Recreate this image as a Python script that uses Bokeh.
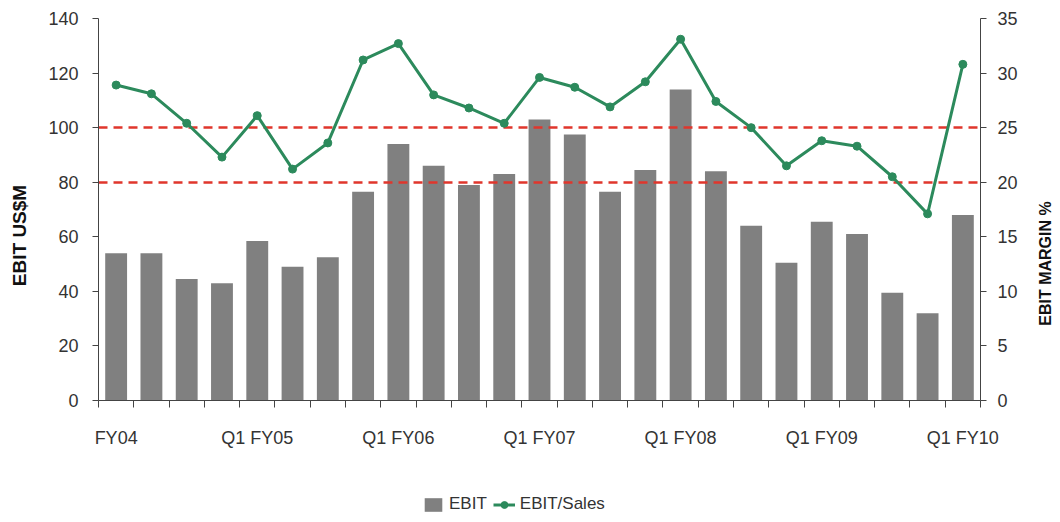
import math
from bokeh.plotting import figure
from bokeh.layouts import column, row
from bokeh.models import (Range1d, LinearAxis, FixedTicker, Legend, LegendItem)
from bokeh.core.properties import value
from bokeh.embed import file_html
from bokeh.resources import INLINE

# ---- data ----
quarters = ["Q1 FY04", "Q2 FY04", "Q3 FY04", "Q4 FY04",
            "Q1 FY05", "Q2 FY05", "Q3 FY05", "Q4 FY05",
            "Q1 FY06", "Q2 FY06", "Q3 FY06", "Q4 FY06",
            "Q1 FY07", "Q2 FY07", "Q3 FY07", "Q4 FY07",
            "Q1 FY08", "Q2 FY08", "Q3 FY08", "Q4 FY08",
            "Q1 FY09", "Q2 FY09", "Q3 FY09", "Q4 FY09",
            "Q1 FY10"]
ebit = [54, 54, 44.5, 43, 58.5, 49, 52.5, 76.5, 94, 86, 79, 83, 103, 97.5,
        76.5, 84.5, 114, 84, 64, 50.5, 65.5, 61, 39.5, 32, 68]
ebit_margin = [28.9, 28.1, 25.4, 22.3, 26.1, 21.2, 23.6, 31.2, 32.7, 28.0,
               26.8, 25.4, 29.6, 28.7, 26.9, 29.2, 33.1, 27.4, 25.0, 21.5,
               23.8, 23.3, 20.5, 17.1, 30.8]
ref_levels = [80, 100]          # EBIT US$M reference lines (= 20% and 25%)
tick_labels = ["FY04", "Q1 FY05", "Q1 FY06", "Q1 FY07", "Q1 FY08", "Q1 FY09", "Q1 FY10"]
tick_label_quarters = ["Q1 FY04", "Q1 FY05", "Q1 FY06", "Q1 FY07", "Q1 FY08", "Q1 FY09", "Q1 FY10"]
left_ticks = [0, 20, 40, 60, 80, 100, 120, 140]
right_ticks = [0, 5, 10, 15, 20, 25, 30, 35]
left_title = "EBIT US$M"
right_title = "EBIT MARGIN %"

FONT = "Liberation Sans"
GRAY = "#808080"
GREEN = "#2c8a5c"
RED = "#e0362c"
TXT = "#333333"

# ---- layout sizes (px) ----
LEFT_W, RIGHT_W = 36, 38          # side strips holding the axis titles
TOP, BOTTOM = 18, 70              # borders above / below the plot frame
MAIN_W = 1060 - LEFT_W - RIGHT_W
MAIN_H = 470
FRAME_H = MAIN_H - TOP - BOTTOM

x = list(range(1, len(quarters) + 1))
label_pos = [quarters.index(q) + 1 for q in tick_label_quarters]
boundaries = [i + 0.5 for i in range(0, len(quarters) + 1)]

p = figure(width=MAIN_W, height=MAIN_H, output_backend="svg", toolbar_location=None,
           x_range=Range1d(0.5, len(quarters) + 0.5),
           y_range=Range1d(left_ticks[0], left_ticks[-1]),
           min_border_left=98 - LEFT_W, min_border_right=80 - RIGHT_W,
           min_border_top=TOP, min_border_bottom=BOTTOM)
p.outline_line_color = None
p.xgrid.visible = False
p.ygrid.visible = False
p.background_fill_color = "white"
p.border_fill_color = "white"
p.extra_y_ranges = {"pct": Range1d(right_ticks[0], right_ticks[-1])}

bar_style = dict(fill_color=GRAY, line_color=None)
line_style = dict(line_color=GREEN, line_width=3)
pt_style = dict(size=8, fill_color=GREEN, line_color=GREEN)

p.vbar(x=x, top=ebit, width=0.62, **bar_style)
p.hspan(y=ref_levels, line_color=RED, line_width=2.5, line_dash="9 6")
p.line(x=x, y=ebit_margin, y_range_name="pct", **line_style)
p.scatter(x=x, y=ebit_margin, y_range_name="pct", **pt_style)

# x axis
xa = p.xaxis[0]
xa.ticker = FixedTicker(ticks=label_pos, minor_ticks=boundaries)
xa.major_label_overrides = {pos: lab for pos, lab in zip(label_pos, tick_labels)}
xa.major_tick_out = 0
xa.major_tick_in = 0
xa.minor_tick_out = 7
xa.minor_tick_in = 0
xa.major_label_standoff = 20
xa.axis_line_color = "#444444"
xa.minor_tick_line_color = "#444444"
xa.major_label_text_font = FONT
xa.major_label_text_font_size = "18px"
xa.major_label_text_color = TXT

# left axis (ticks and labels)
ya = p.yaxis[0]
ya.ticker = FixedTicker(ticks=left_ticks)
ya.major_tick_out = 6
ya.major_tick_in = 0
ya.minor_tick_out = 0
ya.minor_tick_in = 0
ya.major_label_standoff = 14
ya.axis_line_color = "#444444"
ya.major_tick_line_color = "#444444"
ya.major_label_text_font = FONT
ya.major_label_text_font_size = "18px"
ya.major_label_text_color = TXT

# right axis (ticks and labels)
ra = LinearAxis(y_range_name="pct", ticker=FixedTicker(ticks=right_ticks))
ra.major_tick_out = 6
ra.major_tick_in = 0
ra.minor_tick_out = 0
ra.minor_tick_in = 0
ra.major_label_standoff = 11
ra.axis_line_color = "#444444"
ra.major_tick_line_color = "#444444"
ra.major_label_text_font = FONT
ra.major_label_text_font_size = "18px"
ra.major_label_text_color = TXT
p.add_layout(ra, "right")


def title_strip(width, text, cx, cy_from_bottom, size):
    """Narrow figure whose frame spans the same rows as the main frame;
    holds one axis title, rotated to read from bottom to top."""
    f = figure(width=width, height=MAIN_H, output_backend="svg", toolbar_location=None,
               x_axis_location=None, y_axis_location=None,
               x_range=Range1d(0, width), y_range=Range1d(0, FRAME_H),
               min_border_left=0, min_border_right=0,
               min_border_top=TOP, min_border_bottom=BOTTOM)
    f.outline_line_color = None
    f.xgrid.visible = False
    f.ygrid.visible = False
    f.background_fill_color = "white"
    f.border_fill_color = "white"
    f.text(x=[cx], y=[cy_from_bottom], text=[text], angle=math.pi / 2,
           text_align=value("center"), text_baseline=value("middle"),
           text_font=value(FONT), text_font_style=value("bold"),
           text_font_size=value(size), text_color="#111111")
    return f


# titles: left one centred ~235 px from the top, right one ~263 px from the top
lfig = title_strip(LEFT_W, left_title, 18.5, (TOP + FRAME_H) - 235, "19px")
rfig = title_strip(RIGHT_W, right_title, 1045 - (LEFT_W + MAIN_W), (TOP + FRAME_H) - 263, "16px")

# legend strip below the chart; the series are drawn again there outside the
# visible range, only so that the key shows their symbols
lg = figure(width=1060, height=522 - MAIN_H, output_backend="svg", toolbar_location=None,
            x_axis_location=None, y_axis_location=None,
            min_border_left=98, min_border_right=80, min_border_top=0,
            min_border_bottom=0, x_range=Range1d(1e5, 1e5 + 1),
            y_range=Range1d(1e5, 1e5 + 1))
lg.outline_line_color = None
lg.xgrid.visible = False
lg.ygrid.visible = False
lg_bar = lg.vbar(x=x, top=ebit, width=0.62, **bar_style)
lg_line = lg.line(x=x, y=ebit_margin, **line_style)
lg_pt = lg.scatter(x=x, y=ebit_margin, **pt_style)
legend = Legend(items=[LegendItem(label="EBIT", renderers=[lg_bar]),
                       LegendItem(label="EBIT/Sales", renderers=[lg_line, lg_pt])],
                orientation="horizontal", location=(320, 4),
                glyph_width=22, glyph_height=17, label_standoff=5, spacing=6,
                padding=4, margin=0, border_line_alpha=0, background_fill_alpha=0,
                label_text_font=FONT, label_text_font_size="17px",
                label_text_color=TXT)
lg.add_layout(legend, "center")

layout = column(row(lfig, p, rfig, spacing=0), lg, spacing=0)
open("out.html", "w").write(file_html(layout, INLINE))
